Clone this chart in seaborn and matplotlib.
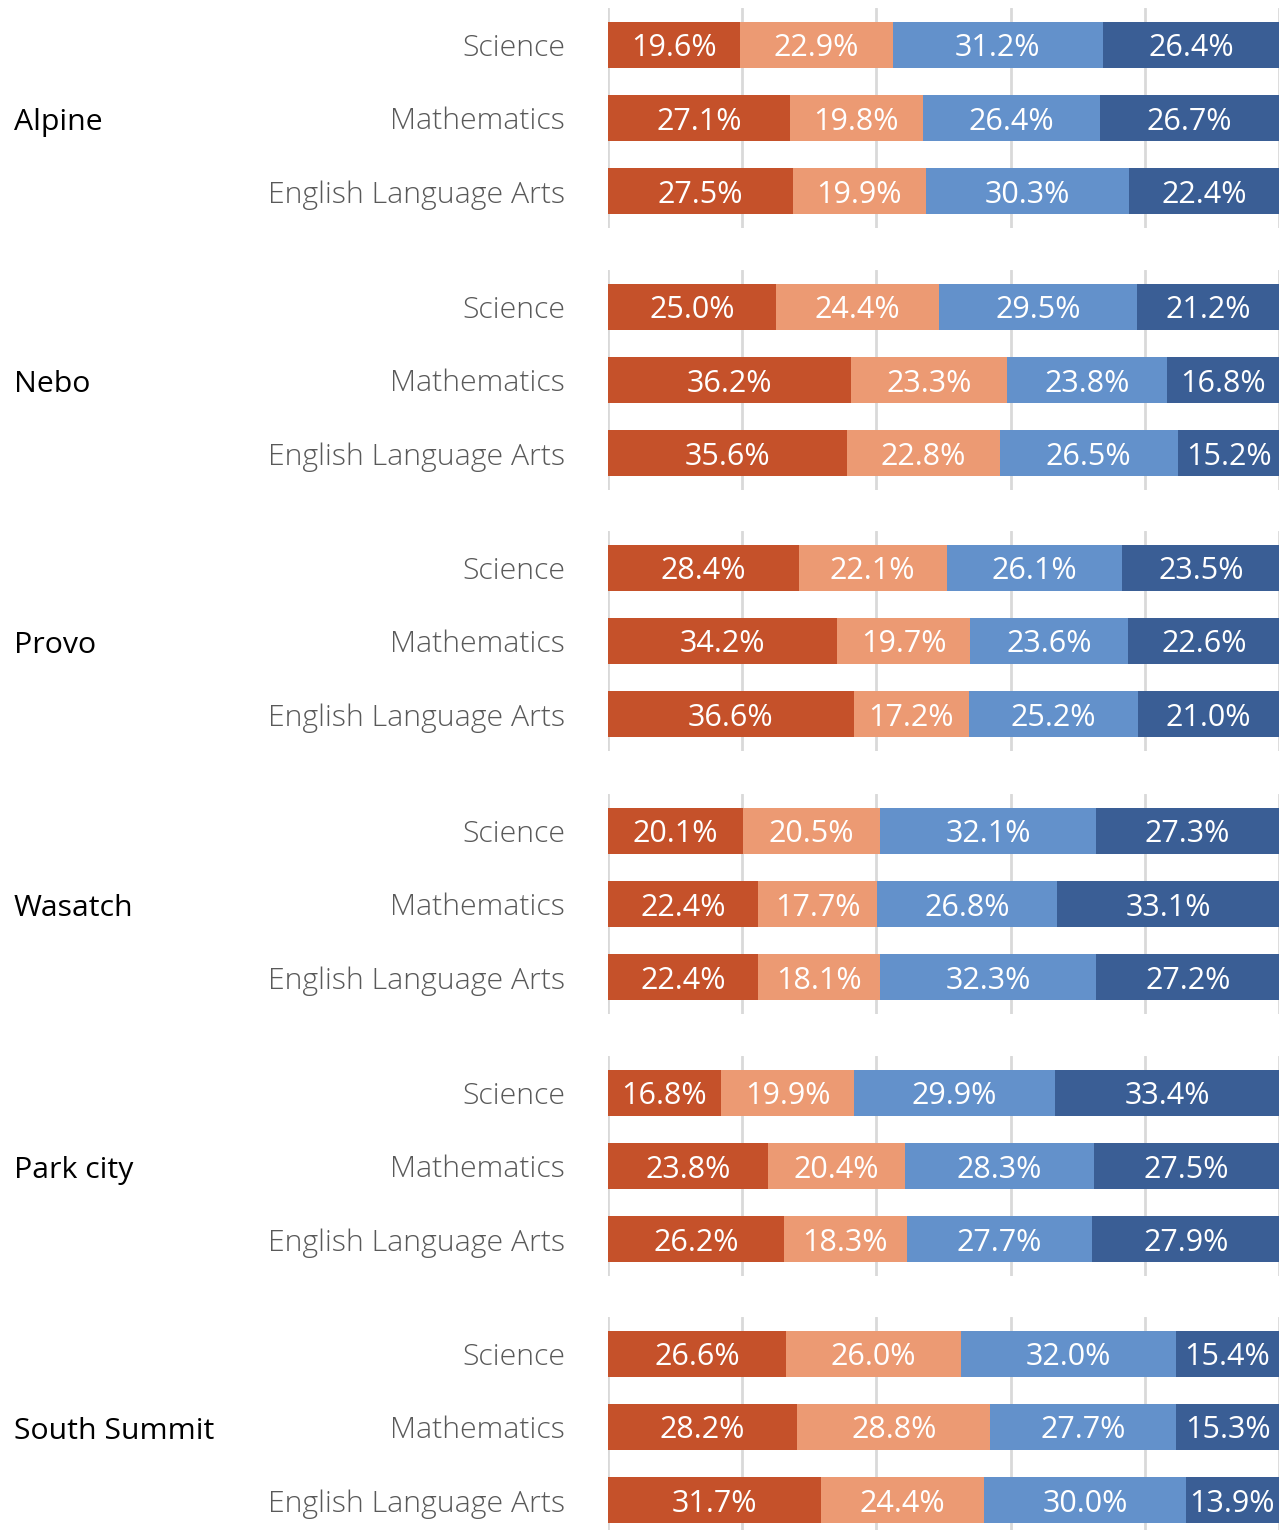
import matplotlib
matplotlib.use("Agg")
import matplotlib.pyplot as plt
import seaborn as sns
import pandas as pd
import numpy as np

# Proficiency level shares (%) by district and subject
districts = ["Alpine", "Nebo", "Provo", "Wasatch", "Park city", "South Summit"]
subjects = ["Science", "Mathematics", "English Language Arts"]
levels = ["Below Proficient", "Approaching Proficient", "Proficient", "Highly Proficient"]

alpine = [[19.6, 22.9, 31.2, 26.4], [27.1, 19.8, 26.4, 26.7], [27.5, 19.9, 30.3, 22.4]]
nebo = [[25.0, 24.4, 29.5, 21.2], [36.2, 23.3, 23.8, 16.8], [35.6, 22.8, 26.5, 15.2]]
provo = [[28.4, 22.1, 26.1, 23.5], [34.2, 19.7, 23.6, 22.6], [36.6, 17.2, 25.2, 21.0]]
wasatch = [[20.1, 20.5, 32.1, 27.3], [22.4, 17.7, 26.8, 33.1], [22.4, 18.1, 32.3, 27.2]]
park_city = [[16.8, 19.9, 29.9, 33.4], [23.8, 20.4, 28.3, 27.5], [26.2, 18.3, 27.7, 27.9]]
south_summit = [[26.6, 26.0, 32.0, 15.4], [28.2, 28.8, 27.7, 15.3], [31.7, 24.4, 30.0, 13.9]]

district_values = [alpine, nebo, provo, wasatch, park_city, south_summit]
colors = ["#C5512A", "#EC9A73", "#6391CB", "#3A5E95"]

sns.set_theme(style="white")
plt.rcParams["font.family"] = ["Open Sans", "DejaVu Sans"]

W, H = 1283, 1530
fig = plt.figure(figsize=(W / 100, H / 100), dpi=100)

panel_tops = [8, 270, 531, 794, 1056, 1317]
panel_h = 220
left_px, width_px = 608, 671

for district, vals, top in zip(districts, district_values, panel_tops):
    ax = fig.add_axes([left_px / W, 1 - (top + panel_h) / H, width_px / W, panel_h / H])
    rows = []
    for subj, v in zip(subjects, vals):
        for lvl, p in zip(levels, v):
            rows.append({"subject": subj, "level": lvl, "pct": p})
    df = pd.DataFrame(rows)
    df["cum"] = df.groupby("subject", sort=False)["pct"].cumsum()
    df["start"] = df["cum"] - df["pct"]

    for gx in range(0, 101, 20):
        ax.axvline(gx, color="#D9D9D9", lw=2, zorder=0)

    # draw cumulative bars from the outermost level inward so they stack
    for lvl, col in reversed(list(zip(levels, colors))):
        sub = df[df["level"] == lvl]
        sns.barplot(data=sub, x="cum", y="subject", order=subjects, color=col,
                    width=0.625, saturation=1, ax=ax, zorder=2, linewidth=0)

    for yi, subj in enumerate(subjects):
        sub = df[df["subject"] == subj]
        for _, r in sub.iterrows():
            ax.text(r["start"] + r["pct"] / 2, yi, f"{r['pct']:.1f}%", ha="center",
                    va="center_baseline", color="white", fontsize=22, zorder=3)

    ax.set_xlim(0, 100)
    ax.set_ylim(2.5, -0.5)
    ax.set_xlabel("")
    ax.set_ylabel("")
    ax.set_xticks([])
    for s in ax.spines.values():
        s.set_visible(False)
    ax.tick_params(axis="y", length=0, pad=31)
    for lab in ax.get_yticklabels():
        lab.set_fontsize(21.8)
        lab.set_fontweight("light")
        lab.set_color("#595959")

    fig.text(14 / W, 1 - (top + 111) / H, district, ha="left", va="center_baseline",
             fontsize=21.8, color="black")

fig.savefig("out.png", dpi=100)
